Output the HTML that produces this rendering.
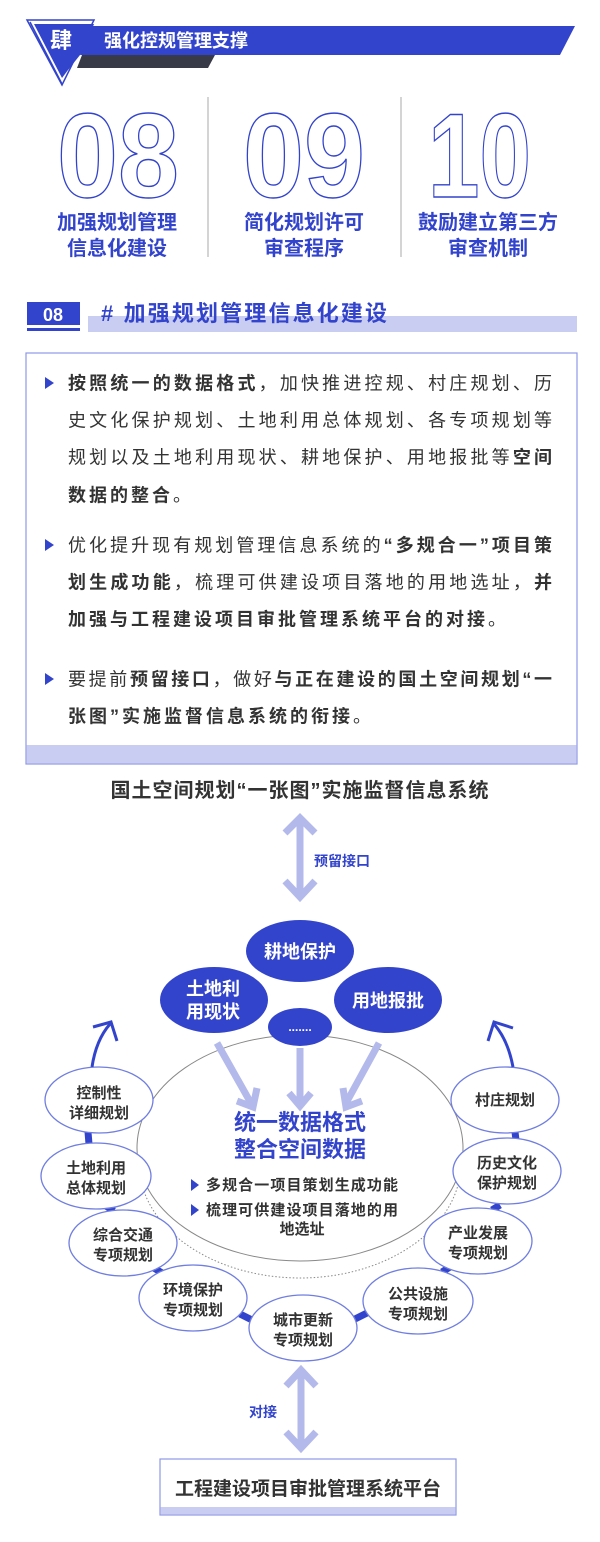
<!DOCTYPE html>
<html><head><meta charset="utf-8"><style>
html,body{margin:0;padding:0;background:#fff;}
svg{display:block;font-family:"Liberation Sans","Noto Sans CJK SC",sans-serif;}
</style></head><body>
<svg width="600" height="1542" viewBox="0 0 600 1542" xmlns="http://www.w3.org/2000/svg">
<!-- header -->
<polygon points="90,26 575,26 560,55 80,55" fill="#3344cc"/>
<polygon points="82,55 215,55 208,68 77,68" fill="#383a48"/>
<polygon points="27,20 94,20 62,85" fill="#fff" stroke="#3344cc" stroke-width="1.5"/>
<polygon points="34,24 94,24 90,34 80,55 68,70 62,78" fill="#3344cc"/>
<line x1="30" y1="22" x2="62" y2="84" stroke="#3344cc" stroke-width="1.5"/>
<text x="61" y="48" font-size="22" font-weight="bold" fill="#fff" text-anchor="middle">肆</text>
<text x="104" y="47" font-size="18" font-weight="bold" fill="#fff">强化控规管理支撑</text>

<!-- numbers -->
<g font-size="120" font-weight="bold" fill="#fff" stroke="#3344cc" stroke-width="1.4">
<text x="57" y="197" textLength="122" lengthAdjust="spacingAndGlyphs">08</text>
<text x="243" y="197" textLength="122" lengthAdjust="spacingAndGlyphs">09</text>
<text x="428" y="197" textLength="103" lengthAdjust="spacingAndGlyphs">10</text>
</g>
<line x1="208" y1="97" x2="208" y2="257" stroke="#aaa" stroke-width="1"/>
<line x1="401" y1="97" x2="401" y2="257" stroke="#aaa" stroke-width="1"/>
<g font-size="20" font-weight="bold" fill="#3344cc" text-anchor="middle">
<text x="117" y="229">加强规划管理</text><text x="117" y="255">信息化建设</text>
<text x="304" y="229">简化规划许可</text><text x="304" y="255">审查程序</text>
<text x="488" y="229">鼓励建立第三方</text><text x="488" y="255">审查机制</text>
</g>

<!-- section header -->
<rect x="88" y="316" width="489" height="16" fill="#cacdf2"/>
<rect x="27" y="302" width="53" height="23" fill="#3344cc"/>
<rect x="27" y="328" width="53" height="3" fill="#3344cc"/>
<text x="53" y="321" font-size="18" font-weight="bold" fill="#fff" text-anchor="middle">08</text>
<text x="101" y="321" font-size="22" font-weight="bold" fill="#3344cc" textLength="286" lengthAdjust="spacing"># 加强规划管理信息化建设</text>

<!-- text box -->
<rect x="26" y="353" width="551" height="411" fill="#fff" stroke="#8e98e6" stroke-width="1.2"/>
<rect x="26.6" y="745" width="549.8" height="18.4" fill="#cacdf2"/>
<g fill="#3344cc">
<polygon points="45,377 54,383 45,389"/>
<polygon points="45,539 54,545 45,551"/>
<polygon points="45,673 54,679 45,685"/>
</g>
<g font-size="18" fill="#333">
<text x="68" y="389.5" textLength="484" lengthAdjust="spacing"><tspan font-weight="bold">按照统一的数据格式</tspan>，加快推进控规、村庄规划、历</text>
<text x="68" y="426.5" textLength="484" lengthAdjust="spacing">史文化保护规划、土地利用总体规划、各专项规划等</text>
<text x="68" y="463.5" textLength="484" lengthAdjust="spacing">规划以及土地利用现状、耕地保护、用地报批等<tspan font-weight="bold">空间</tspan></text>
<text x="68" y="501.5" letter-spacing="3"><tspan font-weight="bold">数据的整合</tspan>。</text>
<text x="68" y="551.5" textLength="484" lengthAdjust="spacing">优化提升现有规划管理信息系统的<tspan font-weight="bold">“多规合一”项目策</tspan></text>
<text x="68" y="588.5" textLength="484" lengthAdjust="spacing"><tspan font-weight="bold">划生成功能</tspan>，梳理可供建设项目落地的用地选址，<tspan font-weight="bold">并</tspan></text>
<text x="68" y="625.5" letter-spacing="3"><tspan font-weight="bold">加强与工程建设项目审批管理系统平台的对接</tspan>。</text>
<text x="68" y="685.5" textLength="484" lengthAdjust="spacing">要提前<tspan font-weight="bold">预留接口</tspan>，做好<tspan font-weight="bold">与正在建设的国土空间规划“一</tspan></text>
<text x="68" y="722.5" letter-spacing="3"><tspan font-weight="bold">张图”实施监督信息系统的衔接</tspan>。</text>
</g>

<text x="300" y="797" font-size="20" font-weight="bold" fill="#333" text-anchor="middle" letter-spacing="1">国土空间规划“一张图”实施监督信息系统</text>

<!-- arrow 1 -->
<g stroke="#b3b9ea" stroke-width="7" fill="none" stroke-linecap="butt">
<line x1="300" y1="817" x2="300" y2="897"/>
<polyline points="285,833 300,818 315,833"/>
<polyline points="285,881 300,897 315,881"/>
</g>
<text x="314" y="866" font-size="14" font-weight="bold" fill="#3344cc">预留接口</text>

<!-- big ellipses -->
<ellipse cx="300" cy="1163" rx="161" ry="115" fill="none" stroke="#888" stroke-width="1" stroke-dasharray="1.5,2"/>
<ellipse cx="300" cy="1148" rx="163" ry="113" fill="#fff" stroke="#888" stroke-width="1"/>

<!-- top filled ellipses -->
<g fill="#3344cc">
<ellipse cx="300" cy="951" rx="54" ry="31"/>
<ellipse cx="214" cy="1000" rx="54" ry="33"/>
<ellipse cx="388" cy="1000" rx="54" ry="33"/>
<ellipse cx="300" cy="1027" rx="32" ry="19"/>
</g>
<g font-size="18" font-weight="bold" fill="#fff" text-anchor="middle">
<text x="300" y="958">耕地保护</text>
<text x="213" y="995">土地利</text><text x="213" y="1018">用现状</text>
<text x="388" y="1007">用地报批</text>
<text x="300" y="1031" font-size="12">.......</text>
</g>

<!-- inward arrows -->
<g stroke="#b3b9ea" stroke-width="7" fill="none">
<line x1="217" y1="1043" x2="252" y2="1105"/>
<polyline points="237,1101 253,1107 257,1088"/>
<line x1="300" y1="1048" x2="300" y2="1105"/>
<polyline points="289,1093 300,1106 311,1093"/>
<line x1="379" y1="1043" x2="345" y2="1105"/>
<polyline points="343,1088 346,1107 362,1101"/>
</g>

<text x="300" y="1130" font-size="22" font-weight="bold" fill="#3344cc" text-anchor="middle">统一数据格式</text>
<text x="300" y="1157" font-size="22" font-weight="bold" fill="#3344cc" text-anchor="middle">整合空间数据</text>
<g fill="#3344cc">
<polygon points="191,1179 199,1185 191,1191"/>
<polygon points="191,1204 199,1210 191,1216"/>
</g>
<g font-size="15" font-weight="bold" fill="#333">
<text x="206" y="1190" textLength="192" lengthAdjust="spacing">多规合一项目策划生成功能</text>
<text x="206" y="1215" textLength="192" lengthAdjust="spacing">梳理可供建设项目落地的用</text>
<text x="302" y="1234" text-anchor="middle">地选址</text>
</g>

<!-- connectors -->
<g stroke="#3344cc" stroke-width="7">
<line x1="88" y1="1132" x2="89" y2="1144"/>
<line x1="106" y1="1206" x2="114" y2="1211"/>
<line x1="154" y1="1268" x2="162" y2="1273"/>
<line x1="240" y1="1314" x2="252" y2="1320"/>
<line x1="355" y1="1319" x2="367" y2="1313"/>
<line x1="442" y1="1272" x2="450" y2="1267"/>
<line x1="492" y1="1210" x2="500" y2="1205"/>
<line x1="515" y1="1132" x2="516" y2="1140"/>
</g>

<!-- outline ellipses -->
<g fill="#fff" stroke="#6f7ee0" stroke-width="1.3">
<ellipse cx="99" cy="1100" rx="54" ry="33"/>
<ellipse cx="96" cy="1176" rx="55" ry="33"/>
<ellipse cx="123" cy="1243" rx="54" ry="33"/>
<ellipse cx="193" cy="1298" rx="54" ry="33"/>
<ellipse cx="303" cy="1328" rx="54" ry="33"/>
<ellipse cx="418" cy="1301" rx="55" ry="33"/>
<ellipse cx="478" cy="1241" rx="54" ry="33"/>
<ellipse cx="507" cy="1171" rx="54" ry="33"/>
<ellipse cx="505" cy="1100" rx="54" ry="33"/>
</g>
<g font-size="15" font-weight="bold" fill="#333" text-anchor="middle">
<text x="99" y="1098">控制性</text><text x="99" y="1118">详细规划</text>
<text x="96" y="1173">土地利用</text><text x="96" y="1193">总体规划</text>
<text x="123" y="1240">综合交通</text><text x="123" y="1260">专项规划</text>
<text x="193" y="1295">环境保护</text><text x="193" y="1315">专项规划</text>
<text x="303" y="1325">城市更新</text><text x="303" y="1345">专项规划</text>
<text x="418" y="1299">公共设施</text><text x="418" y="1319">专项规划</text>
<text x="478" y="1238">产业发展</text><text x="478" y="1258">专项规划</text>
<text x="507" y="1168">历史文化</text><text x="507" y="1188">保护规划</text>
<text x="505" y="1105">村庄规划</text>
</g>

<!-- curved arrows -->
<g stroke="#3344cc" stroke-width="3" fill="none">
<path d="M92,1067 Q96,1040 110,1024"/>
<polyline points="93,1027 111,1022 117,1041"/>
<path d="M513,1067 Q508,1040 494,1024"/>
<polyline points="513,1028 494,1022 488,1041"/>
</g>

<!-- bottom arrow -->
<g stroke="#b3b9ea" stroke-width="7" fill="none">
<line x1="301" y1="1369" x2="301" y2="1449"/>
<polyline points="286,1386 301,1370 316,1386"/>
<polyline points="286,1432 301,1448 316,1432"/>
</g>
<text x="249" y="1417" font-size="14" font-weight="bold" fill="#3344cc">对接</text>

<rect x="160" y="1459" width="296" height="56" fill="#fff" stroke="#8e98e6" stroke-width="1.2"/>
<rect x="160.6" y="1507" width="294.8" height="7.4" fill="#cacdf2"/>
<text x="308" y="1495" font-size="19" font-weight="bold" fill="#333" text-anchor="middle">工程建设项目审批管理系统平台</text>
</svg>
</body></html>
